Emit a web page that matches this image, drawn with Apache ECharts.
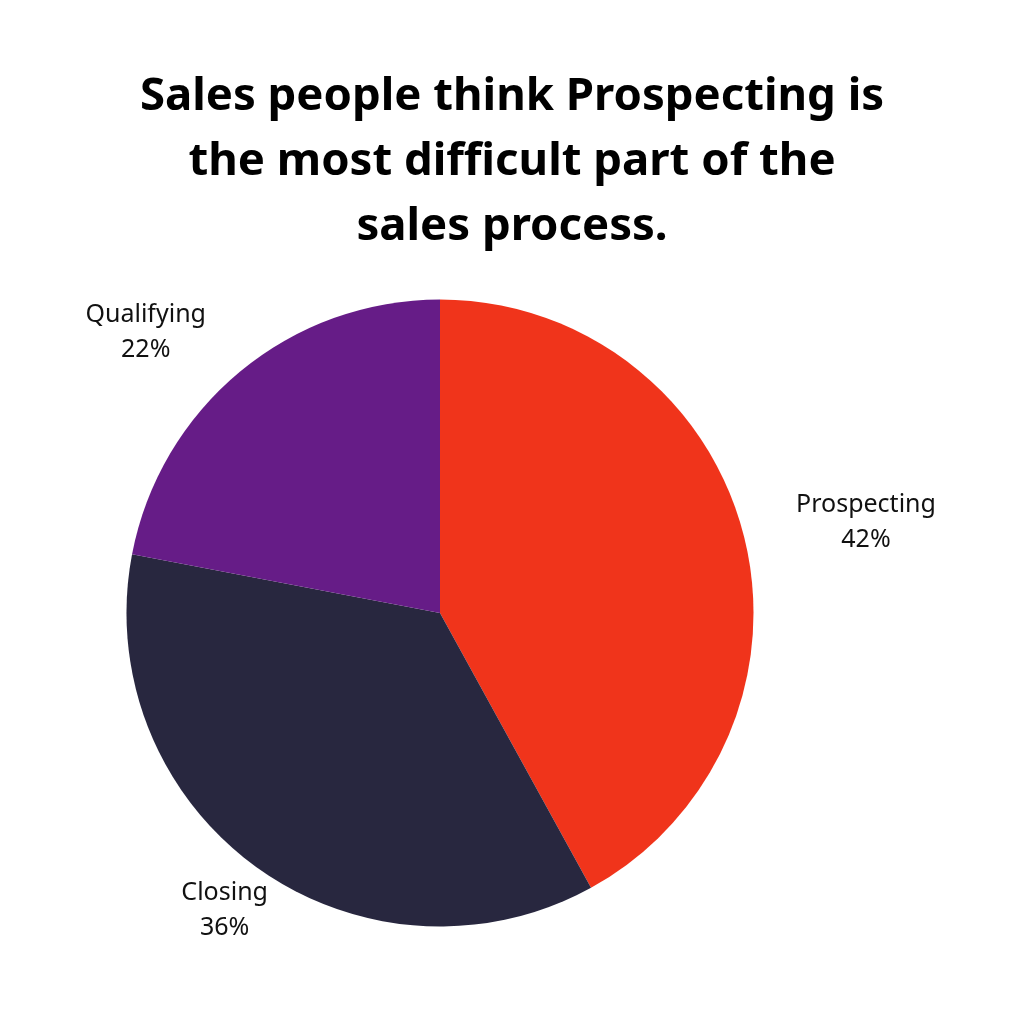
<!DOCTYPE html>
<html>
<head>
<meta charset="utf-8">
<script src="https://cdn.jsdelivr.net/npm/echarts@6/dist/echarts.min.js"></script>
<style>
  html, body { margin: 0; padding: 0; background: #ffffff; }
  #chart { width: 1024px; height: 1024px; }
</style>
</head>
<body>
<div id="chart"></div>
<script>
const titleLines = ['Sales people think Prospecting is', 'the most difficult part of the', 'sales process.'];
const categories = ['Prospecting', 'Closing', 'Qualifying'];
const values = [42, 36, 22];
const colors = ['#F0341B', '#28273F', '#661C87'];
// label line geometry (style only): [length, length2]
const labelGeom = [[50, 4], [54, -44], [50.5, 2]];

const data = categories.map((name, i) => ({
  name: name,
  value: values[i],
  itemStyle: { color: colors[i] },
  labelLine: { show: false, length: labelGeom[i][0], length2: labelGeom[i][1] }
}));

const chart = echarts.init(document.getElementById('chart'), null, { renderer: 'canvas' });
chart.setOption({
  backgroundColor: '#ffffff',
  animation: false,
  title: {
    text: titleLines.join('\n'),
    left: 'center',
    top: 60,
    textStyle: {
      fontFamily: 'Noto Sans',
      fontWeight: 'bold',
      fontSize: 45.5,
      lineHeight: 65,
      color: '#000000'
    }
  },
  series: [{
    type: 'pie',
    center: [440, 613],
    radius: 313.5,
    startAngle: 90,
    clockwise: true,
    avoidLabelOverlap: false,
    data: data,
    label: {
      show: true,
      position: 'outside',
      alignTo: 'none',
      distanceToLabelLine: 0,
      formatter: '{c|{b}}\n{c|{c}%}',
      rich: {
        c: {
          align: 'center',
          fontFamily: 'Noto Sans',
          fontSize: 25,
          lineHeight: 35,
          color: '#111111'
        }
      }
    },
    labelLine: { show: false },
    emphasis: { disabled: true }
  }]
});
</script>
</body>
</html>
